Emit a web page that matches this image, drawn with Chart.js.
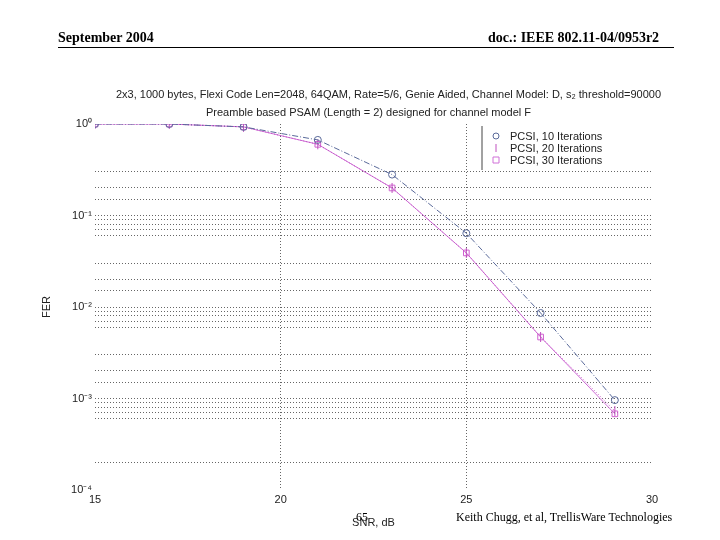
<!DOCTYPE html>
<html>
<head>
<meta charset="utf-8">
<script src="https://cdn.jsdelivr.net/npm/chart.js@4"></script>
<style>
  body { margin: 0; background: #fff; }
  #wrap { position: relative; width: 720px; height: 540px; }
  canvas { position: absolute; left: 0; top: 0; }
  .hdr { position: absolute; font-family: "Liberation Serif", serif; font-size: 14px; font-weight: bold; }
  .ftr { position: absolute; font-family: "Liberation Serif", serif; font-size: 12px; }
</style>
</head>
<body>
<div id="wrap">
  <canvas id="chart" width="720" height="540"></canvas>
  <div class="hdr" style="left:58px; top:30px;">September 2004</div>
  <div class="hdr" style="left:488px; top:30px;">doc.: IEEE 802.11-04/0953r2</div>
  <div style="position:absolute; left:58px; top:47px; width:616px; border-top:1px solid #000;"></div>
  <div class="ftr" style="left:356px; top:510px;">65</div>
  <div class="ftr" style="left:456px; top:510px;">Keith Chugg, et al, TrellisWare Technologies</div>
</div>
<script>
const snr = [15, 17, 19, 21, 23, 25, 27, 29];
const fer10 = [1, 1, 0.93, 0.67, 0.28, 0.064, 0.0086, 0.00096];
const fer20 = [1, 1, 0.93, 0.6, 0.2, 0.039, 0.0047, 0.00073];
const fer30 = [1, 1, 0.93, 0.6, 0.2, 0.039, 0.0047, 0.00068];
const labels = ["PCSI, 10 Iterations", "PCSI, 20 Iterations", "PCSI, 30 Iterations"];
const titleLines = [
    "2x3, 1000 bytes, Flexi Code Len=2048, 64QAM, Rate=5/6, Genie Aided, Channel Model: D, s\u2082 threshold=90000",
    "Preamble based PSAM (Length = 2) designed for channel model F"
];

const sup = { "-": "\u207b", "0": "\u2070", "1": "\u00b9", "2": "\u00b2", "3": "\u00b3", "4": "\u2074" };

function pts(ys) {
    return snr.map((x, i) => ({ x: x, y: ys[i] }));
}

// which minor log grid lines show in the original
function gridShown(v) {
    if (v >= 0.99 || v <= 0.00011) return false;
    if (v > 0.35) return false;
    const m = Math.round(v / Math.pow(10, Math.floor(Math.log10(v) + 1e-9)));
    if (m === 4 || m === 5) return false;
    if (v < 0.00035 && m === 3) return false;
    return true;
}

const overlay = {
    id: "overlay",
    afterDraw(chart) {
        const ctx = chart.ctx;
        const area = chart.chartArea;
        ctx.save();
        ctx.fillStyle = "#222";
        ctx.font = "11px 'Liberation Sans', Arial";
        ctx.textAlign = "center";
        ctx.fillText(titleLines[0], (area.left + area.right) / 2 + 15, 98);
        ctx.fillText(titleLines[1], (area.left + area.right) / 2 - 5, 116);

        // legend
        const lx = 482, ly = 136;
        ctx.strokeStyle = "#444";
        ctx.lineWidth = 1;
        ctx.beginPath();
        ctx.moveTo(lx, ly - 10);
        ctx.lineTo(lx, ly + 34);
        ctx.stroke();
        ctx.textAlign = "left";
        chart.data.datasets.forEach((ds, i) => {
            const y = ly + i * 12;
            ctx.strokeStyle = ds.borderColor;
            ctx.beginPath();
            if (i === 0) {
                ctx.arc(lx + 14, y, 3, 0, Math.PI * 2);
            } else if (i === 1) {
                ctx.moveTo(lx + 14, y - 4); ctx.lineTo(lx + 14, y + 4);
            } else {
                ctx.rect(lx + 11, y - 3, 6, 6);
            }
            ctx.stroke();
            ctx.fillStyle = "#222";
            ctx.fillText(ds.label, lx + 28, y + 4);
        });
        ctx.restore();
    }
};

new Chart(document.getElementById("chart"), {
    type: "line",
    data: {
        datasets: [
            {
                label: labels[0],
                data: pts(fer10),
                borderColor: "#5a6a9a",
                borderWidth: 1,
                borderDash: [6, 2, 1, 2],
                pointStyle: "circle",
                pointRadius: 3.5,
                pointBorderColor: "#5a6a9a",
                pointBackgroundColor: "rgba(0,0,0,0)",
                fill: false
            },
            {
                label: labels[1],
                data: pts(fer20),
                borderColor: "#c050c0",
                borderWidth: 1,
                borderDash: [1, 2],
                pointStyle: "line",
                rotation: 90,
                pointRadius: 5,
                pointBorderColor: "#c050c0",
                fill: false
            },
            {
                label: labels[2],
                data: pts(fer30),
                borderColor: "#d070d8",
                borderWidth: 1,
                pointStyle: "rect",
                pointRadius: 4,
                pointBorderColor: "#d060d0",
                pointBackgroundColor: "rgba(0,0,0,0)",
                fill: false
            }
        ]
    },
    options: {
        responsive: false,
        animation: false,
        layout: { padding: { left: 40, right: 68, top: 124, bottom: 10 } },
        plugins: { legend: { display: false }, title: { display: false }, tooltip: { enabled: false } },
        scales: {
            x: {
                type: "linear",
                min: 15,
                max: 30,
                ticks: { stepSize: 5, color: "#222", font: { family: "'Liberation Sans', Arial", size: 11 } },
                grid: { color: "#666", drawTicks: false, lineWidth: c => (c.tick.value === 15 || c.tick.value === 30) ? 0 : 1 },
                border: { display: false, dash: [1, 2] },
                title: { display: true, text: "SNR, dB", color: "#222", font: { family: "'Liberation Sans', Arial", size: 11 }, padding: 0 },
                afterFit: s => { s.height = 40; }
            },
            y: {
                type: "logarithmic",
                min: 0.0001,
                max: 1,
                ticks: {
                    color: "#222",
                    font: { family: "'Liberation Sans', Arial", size: 11 },
                    autoSkip: false,
                    callback: v => {
                        const e = Math.log10(v);
                        if (Math.abs(e - Math.round(e)) > 1e-9) return "";
                        return "10" + String(Math.round(e)).split("").map(c => sup[c]).join("");
                    }
                },
                grid: {
                    color: "#666",
                    drawTicks: false,
                    lineWidth: c => gridShown(c.tick.value) ? 1 : 0
                },
                border: { display: false, dash: [1, 2] },
                title: { display: true, text: "FER", color: "#222", font: { family: "'Liberation Sans', Arial", size: 11 }, padding: 0 },
                afterFit: s => { s.width = 55; }
            }
        }
    },
    plugins: [overlay]
});
</script>
</body>
</html>
